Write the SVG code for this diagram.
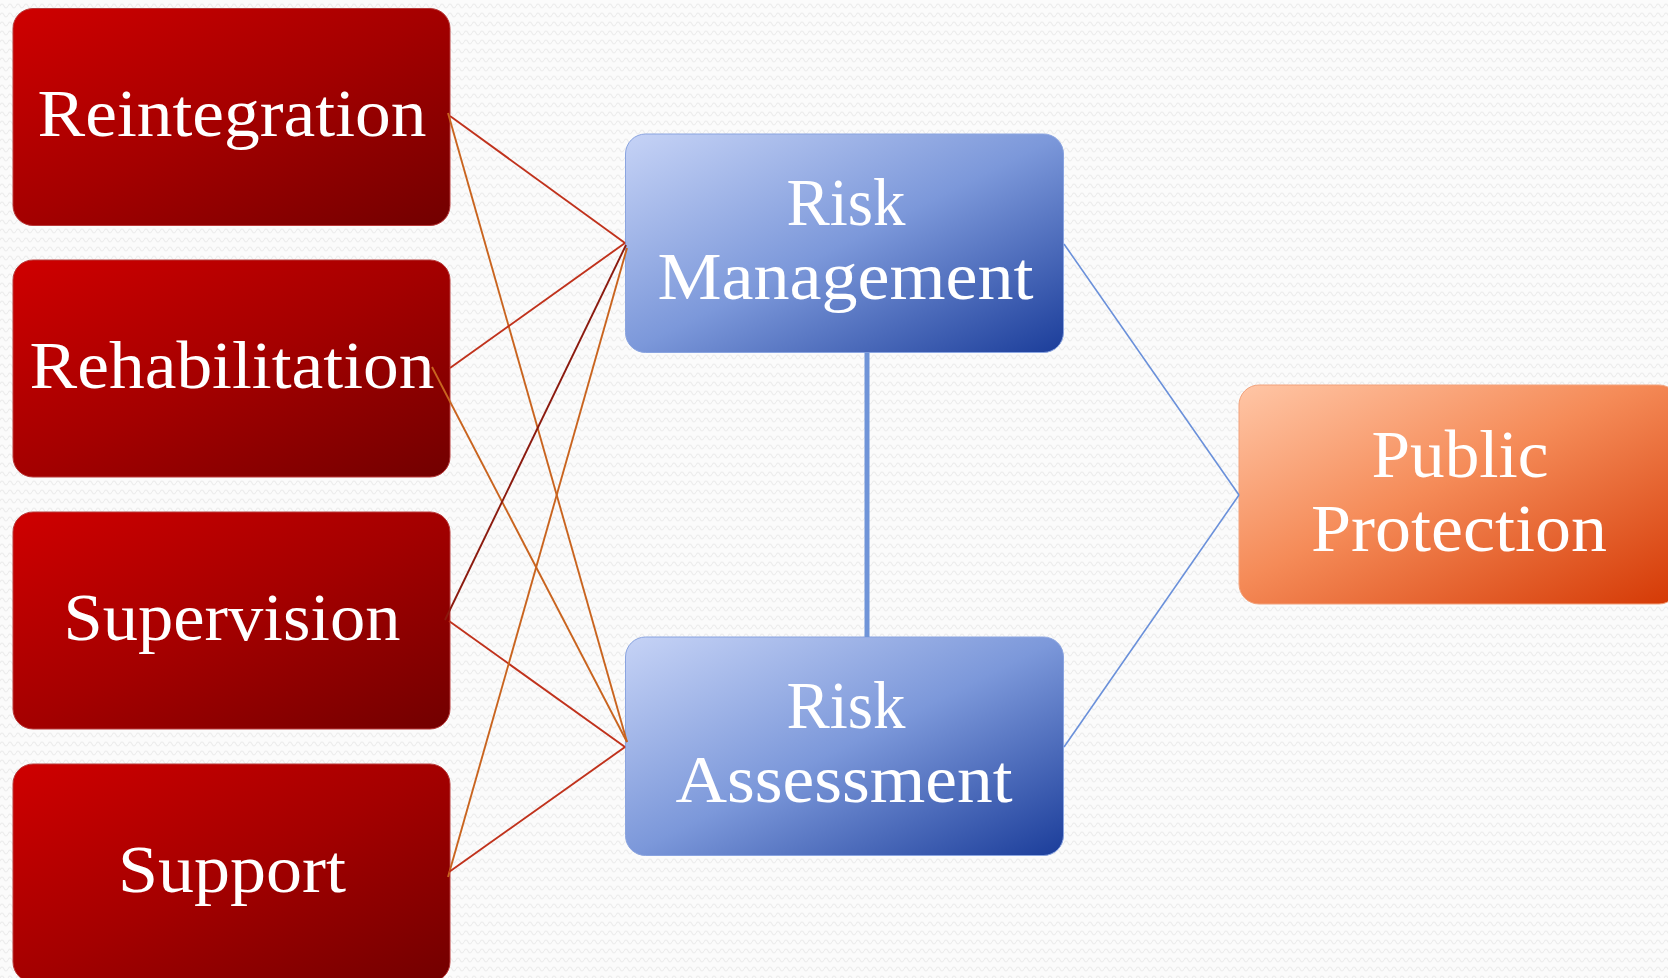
<svg xmlns="http://www.w3.org/2000/svg" width="1668" height="978" viewBox="0 0 1668 978">
  <defs>
    <pattern id="bgwave" width="8" height="9" patternUnits="userSpaceOnUse">
      <rect width="8" height="9" fill="#fbfbfb"/>
      <path d="M0 6 Q2 2 4 6 T8 6" fill="none" stroke="#ececec" stroke-width="1.1"/>
    </pattern>
    <linearGradient id="gRed" x1="0" y1="0" x2="1" y2="1">
      <stop offset="0" stop-color="#cf0000"/>
      <stop offset="0.5" stop-color="#a40000"/>
      <stop offset="1" stop-color="#720000"/>
    </linearGradient>
    <linearGradient id="gBlue" x1="0" y1="0" x2="1" y2="1">
      <stop offset="0" stop-color="#c6d3f6"/>
      <stop offset="0.5" stop-color="#7c98da"/>
      <stop offset="1" stop-color="#1b3d9a"/>
    </linearGradient>
    <linearGradient id="gOrange" x1="0" y1="0" x2="1" y2="1">
      <stop offset="0" stop-color="#ffc6a6"/>
      <stop offset="0.45" stop-color="#f58b58"/>
      <stop offset="1" stop-color="#d43804"/>
    </linearGradient>
    <style>
      .box { stroke-width: 1; }
      .red { fill: url(#gRed); stroke: #b83a3a; }
      .blue { fill: url(#gBlue); stroke: #8aa4e0; }
      .orange { fill: url(#gOrange); stroke: #f2a27c; }
      .lbl { font-family: "Liberation Serif", "DejaVu Serif", serif; font-size: 68px; fill: #ffffff; text-anchor: middle; }
      .c-red { stroke: #c0321c; stroke-width: 1.9; fill: none; }
      .c-orange { stroke: #c9641f; stroke-width: 1.9; fill: none; }
      .c-dark { stroke: #8b1a0e; stroke-width: 1.9; fill: none; }
      .c-blue { stroke: #6a90da; stroke-width: 1.6; fill: none; }
      .c-bar { stroke: #6f94d8; stroke-width: 5; fill: none; }
    </style>
  </defs>

  <rect width="1668" height="978" fill="url(#bgwave)"/>

  <g id="nodes">
    <g id="reintegration">
      <rect class="box red" x="13" y="8.5" width="437" height="217" rx="20" ry="20"/>
      <text class="lbl" x="232" y="136" textLength="389" lengthAdjust="spacingAndGlyphs">Reintegration</text>
    </g>
    <g id="rehabilitation">
      <rect class="box red" x="13" y="260" width="437" height="217" rx="20" ry="20"/>
      <text class="lbl" x="232" y="388" textLength="405" lengthAdjust="spacingAndGlyphs">Rehabilitation</text>
    </g>
    <g id="supervision">
      <rect class="box red" x="13" y="512" width="437" height="217" rx="20" ry="20"/>
      <text class="lbl" x="232" y="640" textLength="337" lengthAdjust="spacingAndGlyphs">Supervision</text>
    </g>
    <g id="support">
      <rect class="box red" x="13" y="764" width="437" height="218" rx="20" ry="20"/>
      <text class="lbl" x="232" y="892" textLength="228" lengthAdjust="spacingAndGlyphs">Support</text>
    </g>
    <g id="risk-management">
      <rect class="box blue" x="625.5" y="134" width="438" height="218.5" rx="20" ry="20"/>
      <text class="lbl" x="846" y="225" textLength="119" lengthAdjust="spacingAndGlyphs">Risk</text>
      <text class="lbl" x="845.5" y="299" textLength="376" lengthAdjust="spacingAndGlyphs">Management</text>
    </g>
    <g id="risk-assessment">
      <rect class="box blue" x="625.5" y="637" width="438" height="218.5" rx="20" ry="20"/>
      <text class="lbl" x="846" y="728" textLength="119" lengthAdjust="spacingAndGlyphs">Risk</text>
      <text class="lbl" x="844" y="801.5" textLength="337" lengthAdjust="spacingAndGlyphs">Assessment</text>
    </g>
    <g id="public-protection">
      <rect class="box orange" x="1239" y="385" width="440" height="219" rx="20" ry="20"/>
      <text class="lbl" x="1460" y="477" textLength="177" lengthAdjust="spacingAndGlyphs">Public</text>
      <text class="lbl" x="1459" y="551" textLength="296" lengthAdjust="spacingAndGlyphs">Protection</text>
    </g>
  </g>

  <g id="connectors">
    <line class="c-red" x1="450" y1="116" x2="625" y2="243"/>
    <line class="c-orange" x1="448" y1="113" x2="627" y2="742"/>
    <line class="c-red" x1="450" y1="368" x2="625" y2="243"/>
    <line class="c-orange" x1="432" y1="367" x2="627" y2="742"/>
    <line class="c-dark" x1="445" y1="620" x2="626" y2="245"/>
    <line class="c-red" x1="449" y1="621" x2="625" y2="747"/>
    <line class="c-orange" x1="448" y1="877" x2="627" y2="248"/>
    <line class="c-red" x1="449" y1="872" x2="625" y2="747"/>
    <line class="c-bar" x1="867" y1="352.5" x2="867" y2="637"/>
    <line class="c-blue" x1="1064" y1="244" x2="1239" y2="495"/>
    <line class="c-blue" x1="1064" y1="747" x2="1239" y2="495"/>
  </g>
</svg>
